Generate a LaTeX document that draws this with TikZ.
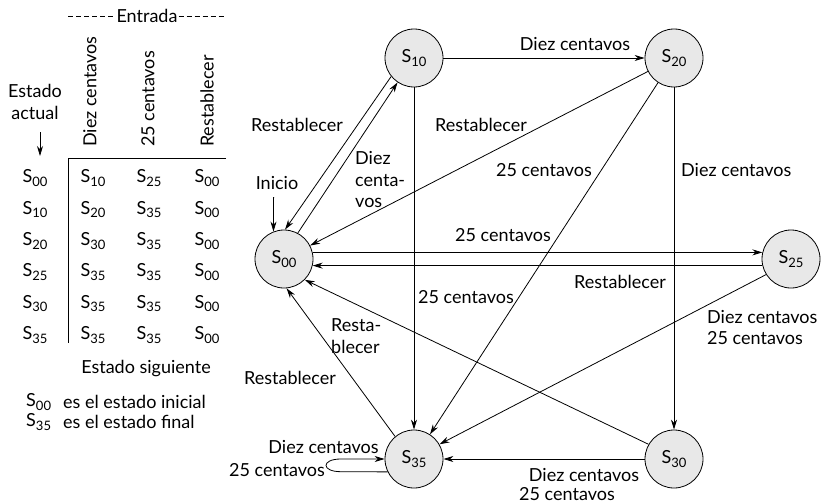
\documentclass[tikz,border=0pt]{standalone}
\usepackage{fontspec}
\setmainfont{Lato}
\usetikzlibrary{arrows.meta}
\newcommand\Sx[1]{S\raisebox{-0.35ex}{\fontsize{13}{13}\selectfont #1}}
\begin{document}
\begin{tikzpicture}[x=1pt,y=-1pt,
  every node/.style={font=\fontsize{18}{21.5}\selectfont, inner sep=1pt},
  state/.style={circle, draw, fill=gray!18, minimum size=58pt, inner sep=0pt, line width=0.8pt},
  arr/.style={-{Stealth[length=10pt,width=6pt]}, line width=0.8pt},
  ln/.style={line width=0.8pt},
  dsh/.style={line width=0.8pt, dash pattern=on 5pt off 3pt},
  tight/.style={inner sep=0pt}
]
\useasboundingbox (0,0) rectangle (824,503);

% ---------- table ----------
\node (ent) at (147,16) {Entrada};
\coordinate (dl) at (68,16);
\coordinate (dr) at (226,16);
\draw[dsh] (dl) -- (ent.west);
\draw[dsh] (ent.east) -- (dr);
\node[rotate=90, anchor=west] (h1) at (90,148) {Diez centavos};
\node[rotate=90, anchor=west] (h2) at (148,148) {25 centavos};
\node[rotate=90, anchor=west] (h3) at (207,148) {Restablecer};
\node[align=center] (ea) at (35,102) {Estado\\actual};
\coordinate (ea1) at (40,132);
\coordinate (ea2) at (40,156);
\draw[arr] (ea1) -- (ea2);
\coordinate (tl) at (68,158);
\coordinate (tr) at (226,158);
\coordinate (tb) at (68,343);
\draw[ln] (tr) -- (tl) -- (tb);
\foreach \r/\a/\b/\c/\y in {00/10/25/00/178, 10/20/35/00/209.5, 20/30/35/00/241, 25/35/35/00/272, 30/35/35/00/303.5, 35/35/35/00/335}{
  \node (r\r) at (35,\y) {\Sx{\r}};
  \node (a\r) at (93,\y) {\Sx{\a}};
  \node (b\r) at (149,\y) {\Sx{\b}};
  \node (c\r) at (207,\y) {\Sx{\c}};
}
\node (sig) at (146,369) {Estado siguiente};
\node[anchor=west] (n1) at (25,402) {\Sx{00}};
\node[anchor=west] (t1) at (62,402) {es el estado inicial};
\node[anchor=west] (n2) at (25,422) {\Sx{35}};
\node[anchor=west] (t2) at (62,422) {es el estado final};

% ---------- states ----------
\node[state] (s10) at (414,58) {\Sx{10}};
\node[state] (s20) at (674,58) {\Sx{20}};
\node[state] (s00) at (284,259) {\Sx{00}};
\node[state] (s25) at (791,259) {\Sx{25}};
\node[state] (s35) at (414,459) {\Sx{35}};
\node[state] (s30) at (674,459) {\Sx{30}};

% ---------- edges ----------
\draw[arr] (s10) -- (s20);
\draw[arr] (s10.219) -- (s00.88);
\draw[arr] (s00.62) -- (s10.236);
\draw[arr] (s20) -- (s00);
\draw[arr] (s20) -- (s35);
\draw[arr] (s20) -- (s30);
\draw[arr] (s10) -- (s35);
\draw[arr] (s00.13) -- (s25.167);
\draw[arr] (s25.193) -- (s00.347);
\draw[arr] (s25.212) -- (s35.30);
\draw[arr] (s30.150) -- (s00.315);
\draw[arr] (s35.130) -- (s00.275);
\draw[arr] (s30) -- (s35);
\coordinate (l1) at (341,471.7);
\coordinate (l2) at (341,459);
\draw[arr] (s35.206) -- (l1) .. controls (321,471.7) and (321,459) .. (l2) -- (s35.west);
\coordinate (inis) at (273.6,197);
\draw[arr] (inis) -- (s00.111);

% ---------- labels ----------
\node (ini) at (277,183) {Inicio};
\node at (575,44) {Diez centavos};
\node at (297,125) {Restablecer};
\node[align=left, anchor=west] at (354,180) {Diez\\centa-\\vos};
\node at (481,125) {Restablecer};
\node at (544,170) {25 centavos};
\node[anchor=west] at (680,170) {Diez centavos};
\node at (503,235) {25 centavos};
\node at (466,297) {25 centavos};
\node at (620,282) {Restablecer};
\node[align=left, anchor=west] at (706,327.5) {Diez centavos\\25 centavos};
\node[align=left, anchor=west] at (330,336) {Resta-\\blecer};
\node at (290,378) {Restablecer};
\node[tight] at (584,475) {Diez centavos};
\node[tight] at (567,494) {25 centavos};
\node at (323.5,447) {Diez centavos};
\node[anchor=east] at (326,470) {25 centavos};
\end{tikzpicture}
\end{document}
